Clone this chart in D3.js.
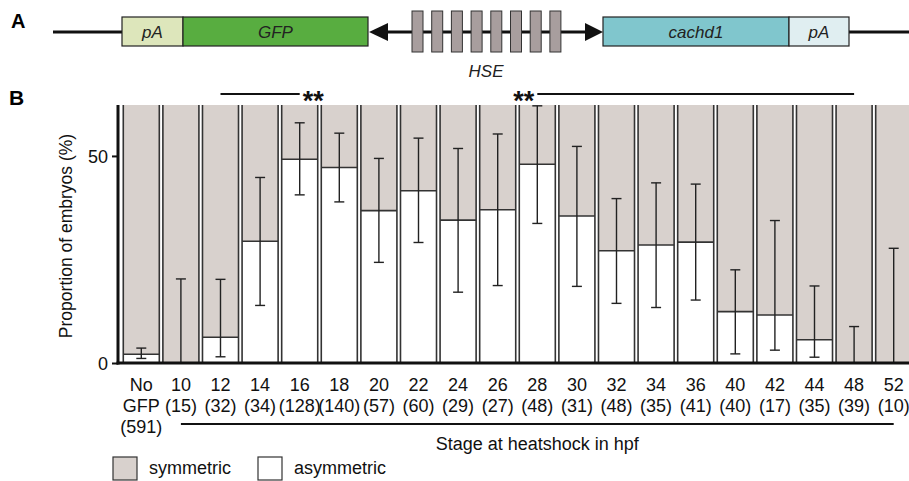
<!DOCTYPE html>
<html>
<head>
<meta charset="utf-8">
<script src="https://cdn.jsdelivr.net/npm/d3@7"></script>
<style>
  body { margin: 0; background: #fff; }
  svg { display: block; font-family: "Liberation Sans", Arial, sans-serif; }
</style>
</head>
<body>
<svg id="fig" width="909" height="481"></svg>
<script>
// stage at heatshock (hpf) and number of embryos
var stages = ["No", "10", "12", "14", "16", "18", "20", "22", "24", "26",
              "28", "30", "32", "34", "36", "40", "42", "44", "48", "52"];
var counts = ["GFP", "(15)", "(32)", "(34)", "(128)", "(140)", "(57)", "(60)", "(29)", "(27)",
              "(48)", "(31)", "(48)", "(35)", "(41)", "(40)", "(17)", "(35)", "(39)", "(10)"];

// % asymmetric embryos, with error bar bounds
var asymmetric = [2.1, 0, 6.2, 29.4, 49.2, 47.2, 36.8, 41.6, 34.5, 37.0,
                  48.0, 35.5, 27.1, 28.5, 29.2, 12.4, 11.6, 5.6, 0, 0];
var errLow  = [1.1, 0, 1.5, 13.9, 40.6, 38.9, 24.3, 29.1, 17.1, 18.7,
               33.7, 18.5, 14.4, 13.4, 15.2, 2.2, 3.1, 1.4, 0, 0];
var errHigh = [3.6, 20.3, 20.2, 44.8, 58.0, 55.5, 49.4, 54.3, 51.8, 55.3,
               62.1, 52.3, 39.7, 43.5, 43.2, 22.5, 34.4, 18.6, 8.8, 27.7];

var yTicks = [0, 50];

// significance brackets: [from stage, to stage, side of the stars]
var sigLines = [["12", "16", "right"], ["28", "48", "left"]];

var svg = d3.select("#fig");

// ---------- panel A : construct ----------
var gA = svg.append("g");

gA.append("text").attr("x", 11).attr("y", 28)
  .style("font-weight", "bold").style("font-size", "20px").text("A");

// backbone line
gA.append("line").attr("x1", 53).attr("x2", 122).attr("y1", 32).attr("y2", 32)
  .attr("stroke", "#111").attr("stroke-width", 3);
gA.append("line").attr("x1", 375).attr("x2", 595).attr("y1", 32).attr("y2", 32)
  .attr("stroke", "#111").attr("stroke-width", 3);
gA.append("line").attr("x1", 849).attr("x2", 909).attr("y1", 32).attr("y2", 32)
  .attr("stroke", "#111").attr("stroke-width", 3);

var parts = [
  {x: 122, w: 61, fill: "#dde6bb", label: "pA"},
  {x: 183, w: 185, fill: "#58ad40", label: "GFP"},
  {x: 603, w: 186, fill: "#80c6cd", label: "cachd1"},
  {x: 789, w: 60, fill: "#e0eef1", label: "pA"}
];
gA.selectAll(".part").data(parts).enter().append("rect")
  .attr("x", function(d) { return d.x; }).attr("y", 17)
  .attr("width", function(d) { return d.w; }).attr("height", 29)
  .attr("fill", function(d) { return d.fill; })
  .attr("stroke", "#222").attr("stroke-width", 1.2);
gA.selectAll(".partLabel").data(parts).enter().append("text")
  .attr("x", function(d) { return d.x + d.w / 2; }).attr("y", 38)
  .attr("text-anchor", "middle").style("font-style", "italic")
  .style("font-size", "17px").attr("fill", "#222")
  .text(function(d) { return d.label; });

// arrow heads
gA.append("path").attr("d", "M369,32 L388,23 L388,41 Z").attr("fill", "#111");
gA.append("path").attr("d", "M603,32 L585,23 L585,41 Z").attr("fill", "#111");

// HSE boxes
var hse = d3.range(8);
gA.selectAll(".hse").data(hse).enter().append("rect")
  .attr("x", function(d) { return 412 + d * 19.7; }).attr("y", 11)
  .attr("width", 11).attr("height", 41)
  .attr("fill", "#a89e9e").attr("stroke", "#333").attr("stroke-width", 1);
gA.append("text").attr("x", 486).attr("y", 77).attr("text-anchor", "middle")
  .style("font-style", "italic").style("font-size", "17px").attr("fill", "#222").text("HSE");

// ---------- panel B : bar chart ----------
svg.append("text").attr("x", 9).attr("y", 105)
  .style("font-weight", "bold").style("font-size", "21px").text("B");

var x = d3.scaleBand().domain(stages)
  .range([121.5, 913.5]).paddingInner(0.09).paddingOuter(0.045);
var y = d3.scaleLinear().domain([0, 62.3]).range([363, 105]);

var rows = stages.map(function(s, i) {
  return {stage: s, asym: asymmetric[i], lo: errLow[i], hi: errHigh[i]};
});

var bars = svg.append("g").selectAll("g").data(rows).enter().append("g")
  .attr("transform", function(d) { return "translate(" + x(d.stage) + ",0)"; });

var bw = x.bandwidth();
// symmetric part (grey) fills the whole column
bars.append("rect").attr("x", 0).attr("width", bw)
  .attr("y", y(62.3)).attr("height", y(0) - y(62.3)).attr("fill", "#d8d1cd");
// asymmetric part (white)
bars.append("rect").attr("x", 0).attr("width", bw)
  .attr("y", function(d) { return y(d.asym); })
  .attr("height", function(d) { return y(0) - y(d.asym); })
  .attr("fill", "#fff");
// column outlines (open at the top)
bars.append("path")
  .attr("d", "M0," + y(62.3) + "V" + y(0) + "M" + bw + "," + y(62.3) + "V" + y(0))
  .attr("stroke", "#333").attr("stroke-width", 1.6).attr("fill", "none");
bars.filter(function(d) { return d.asym > 0; }).append("line")
  .attr("x1", 0).attr("x2", bw)
  .attr("y1", function(d) { return y(d.asym); }).attr("y2", function(d) { return y(d.asym); })
  .attr("stroke", "#333").attr("stroke-width", 1.6);

// error bars
var cx = bw / 2;
bars.append("line").attr("x1", cx).attr("x2", cx)
  .attr("y1", function(d) { return y(d.lo); }).attr("y2", function(d) { return y(d.hi); })
  .attr("stroke", "#222").attr("stroke-width", 1.4);
bars.append("line").attr("x1", cx - 5).attr("x2", cx + 5)
  .attr("y1", function(d) { return y(d.hi); }).attr("y2", function(d) { return y(d.hi); })
  .attr("stroke", "#222").attr("stroke-width", 1.4);
bars.filter(function(d) { return d.lo > 0; }).append("line")
  .attr("x1", cx - 5).attr("x2", cx + 5)
  .attr("y1", function(d) { return y(d.lo); }).attr("y2", function(d) { return y(d.lo); })
  .attr("stroke", "#222").attr("stroke-width", 1.4);

// axes
var yAxis = svg.append("g").attr("transform", "translate(118,0)")
  .call(d3.axisLeft(y).tickValues(yTicks).tickSize(6).tickPadding(4));
yAxis.select(".domain").remove();
yAxis.selectAll("line").attr("stroke", "#111").attr("stroke-width", 2);
yAxis.selectAll("text").style("font-size", "18px").attr("fill", "#111")
  .style("font-family", "'Liberation Sans', Arial, sans-serif").attr("dy", "0.36em");

svg.append("line").attr("x1", 118).attr("x2", 118).attr("y1", 105).attr("y2", 364.5)
  .attr("stroke", "#111").attr("stroke-width", 3);
svg.append("line").attr("x1", 116.5).attr("x2", 909).attr("y1", 363).attr("y2", 363)
  .attr("stroke", "#111").attr("stroke-width", 3);

svg.append("text").attr("transform", "translate(72,236) rotate(-90)")
  .attr("text-anchor", "middle").style("font-size", "17.5px").attr("fill", "#111")
  .text("Proportion of embryos (%)");

// x labels
var xl = svg.append("g");
xl.selectAll(".st").data(stages).enter().append("text")
  .attr("x", function(d) { return x(d) + bw / 2; }).attr("y", 391)
  .attr("text-anchor", "middle").style("font-size", "18px").attr("fill", "#111")
  .text(function(d) { return d; });
xl.selectAll(".ct").data(counts).enter().append("text")
  .attr("x", function(d, i) { return x(stages[i]) + bw / 2; }).attr("y", 412)
  .attr("text-anchor", "middle").style("font-size", "18px").attr("fill", "#111")
  .text(function(d) { return d; });
xl.append("text").attr("x", x("No") + bw / 2).attr("y", 433)
  .attr("text-anchor", "middle").style("font-size", "18px").attr("fill", "#111").text("(591)");

var xa = x("10") + bw / 2, xb = x("52") + bw / 2;
xl.append("line").attr("x1", xa).attr("x2", xb).attr("y1", 424).attr("y2", 424)
  .attr("stroke", "#111").attr("stroke-width", 2.2);
xl.append("text").attr("x", (xa + xb) / 2).attr("y", 450).attr("text-anchor", "middle")
  .style("font-size", "18px").attr("fill", "#111").text("Stage at heatshock in hpf");

// significance
sigLines.forEach(function(s) {
  var a = x(s[0]) + bw / 2, b = x(s[1]) + bw / 2;
  svg.append("line").attr("x1", a).attr("x2", b).attr("y1", 94).attr("y2", 94)
    .attr("stroke", "#111").attr("stroke-width", 2);
  svg.append("text")
    .attr("x", s[2] == "right" ? b + 3 : a - 3).attr("y", 110)
    .attr("text-anchor", s[2] == "right" ? "start" : "end")
    .style("font-size", "27px").style("font-weight", "bold").attr("fill", "#111").text("**");
});

// legend
var legend = [{label: "symmetric", fill: "#d8d1cd", x: 113}, {label: "asymmetric", fill: "#fff", x: 258}];
var lg = svg.append("g").selectAll("g").data(legend).enter().append("g")
  .attr("transform", function(d) { return "translate(" + d.x + ",457)"; });
lg.append("rect").attr("width", 24).attr("height", 23)
  .attr("fill", function(d) { return d.fill; }).attr("stroke", "#333").attr("stroke-width", 1.2);
lg.append("text").attr("x", 36).attr("y", 17).style("font-size", "18px").attr("fill", "#111")
  .text(function(d) { return d.label; });
</script>
</body>
</html>
